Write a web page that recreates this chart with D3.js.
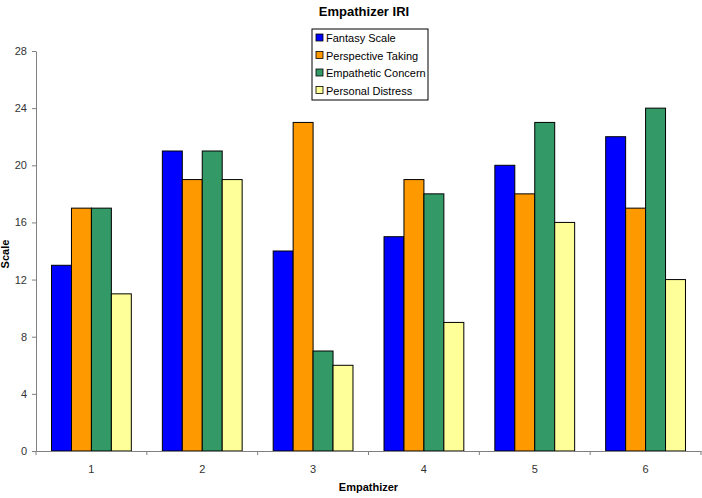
<!DOCTYPE html>
<html>
<head>
<meta charset="utf-8">
<script src="https://cdn.jsdelivr.net/npm/d3@7"></script>
<style>
  body { margin: 0; background: #fff; }
  svg { font-family: "Liberation Sans", Arial, sans-serif; }
  .axis path, .axis line { stroke: #808080; }
  .axis text { fill: #333; font-size: 11px; }
</style>
</head>
<body>
<div id="chart"></div>
<script>
// Empathizer IRI
var empathizers = ["1", "2", "3", "4", "5", "6"];
var seriesNames = ["Fantasy Scale", "Perspective Taking", "Empathetic Concern", "Personal Distress"];
var seriesColors = ["#0000ff", "#ff9900", "#339966", "#ffff99"];
var fantasy = [13, 21, 14, 15, 20, 22];
var perspective = [17, 19, 23, 19, 18, 17];
var concern = [17, 21, 7, 18, 23, 24];
var distress = [11, 19, 6, 9, 16, 12];
var yTicks = [0, 4, 8, 12, 16, 20, 24, 28];

var seriesValues = [fantasy, perspective, concern, distress];

var width = 702, height = 498;
var margin = { top: 51, right: 1, bottom: 47, left: 36 },
    plotW = width - margin.left - margin.right,
    plotH = height - margin.top - margin.bottom;

var svg = d3.select("#chart")
    .append("svg")
    .attr("width", width)
    .attr("height", height);

var g = svg.append("g")
    .attr("transform", "translate(" + margin.left + "," + margin.top + ")");

var x0 = d3.scaleBand()
    .domain(empathizers)
    .range([0, plotW])
    .paddingInner(0.28)
    .paddingOuter(0.14);

var x1 = d3.scaleBand()
    .domain(seriesNames)
    .range([0, x0.bandwidth()]);

var y = d3.scaleLinear()
    .domain([0, 28])
    .range([plotH, 0]);

// bars
var groups = g.selectAll(".group")
    .data(empathizers)
    .enter().append("g")
    .attr("class", "group")
    .attr("transform", function(d) { return "translate(" + x0(d) + ",0)"; });

groups.selectAll("rect")
    .data(function(d, i) {
        return seriesNames.map(function(s, j) {
            return { name: s, value: seriesValues[j][i], color: seriesColors[j] };
        });
    })
    .enter().append("rect")
    .attr("x", function(d) { return x1(d.name); })
    .attr("y", function(d) { return y(d.value); })
    .attr("width", x1.bandwidth())
    .attr("height", function(d) { return plotH - y(d.value); })
    .attr("fill", function(d) { return d.color; })
    .attr("stroke", "#000")
    .attr("stroke-width", 1);

// axes
var yAxis = d3.axisLeft(y)
    .tickValues(yTicks)
    .tickSize(4)
    .tickSizeOuter(0)
    .tickPadding(5);

g.append("g")
    .attr("class", "axis")
    .call(yAxis);

// x axis: ticks between categories
var xAxis = d3.axisBottom(x0)
    .tickSize(0)
    .tickPadding(14);

var xg = g.append("g")
    .attr("class", "axis")
    .attr("transform", "translate(0," + plotH + ")")
    .call(xAxis);

var step = x0.step();
var bounds = d3.range(empathizers.length + 1).map(function(i) { return i * step; });
xg.selectAll(".sep")
    .data(bounds)
    .enter().append("line")
    .attr("class", "sep")
    .attr("x1", function(d) { return d; })
    .attr("x2", function(d) { return d; })
    .attr("y1", 0)
    .attr("y2", 4)
    .attr("stroke", "#808080");

// title
svg.append("text")
    .attr("x", 364)
    .attr("y", 16)
    .attr("text-anchor", "middle")
    .style("font-size", "13px")
    .style("font-weight", "bold")
    .text("Empathizer IRI");

// axis titles
svg.append("text")
    .attr("x", margin.left + plotW / 2)
    .attr("y", 491)
    .attr("text-anchor", "middle")
    .style("font-size", "11px")
    .style("font-weight", "bold")
    .text("Empathizer");

svg.append("text")
    .attr("transform", "translate(9,254) rotate(-90)")
    .attr("text-anchor", "middle")
    .style("font-size", "11px")
    .style("font-weight", "bold")
    .text("Scale");

// legend
var legend = svg.append("g")
    .attr("transform", "translate(312,29)");

legend.append("rect")
    .attr("width", 116)
    .attr("height", 71)
    .attr("fill", "#fff")
    .attr("stroke", "#000");

var items = legend.selectAll(".item")
    .data(seriesNames)
    .enter().append("g")
    .attr("class", "item")
    .attr("transform", function(d, i) { return "translate(4," + (9 + i * 17.5) + ")"; });

items.append("rect")
    .attr("x", 0)
    .attr("y", -4)
    .attr("width", 7)
    .attr("height", 7)
    .attr("fill", function(d, i) { return seriesColors[i]; })
    .attr("stroke", "#000")
    .attr("stroke-width", 0.8);

items.append("text")
    .attr("x", 10)
    .attr("y", 4)
    .style("font-size", "11px")
    .text(function(d) { return d; });
</script>
</body>
</html>
